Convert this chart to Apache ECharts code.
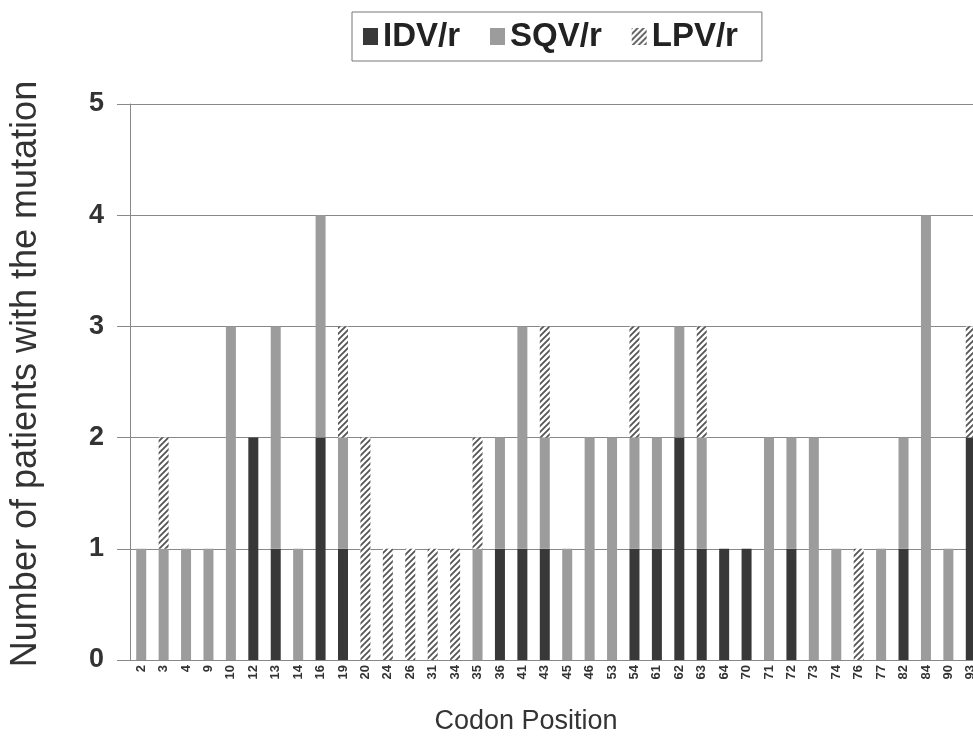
<!DOCTYPE html>
<html>
<head>
<meta charset="utf-8">
<script src="https://cdn.jsdelivr.net/npm/echarts@6/dist/echarts.min.js"></script>
<style>
html,body{margin:0;padding:0;background:#fff;}
#chart{width:973px;height:740px;}
</style>
</head>
<body>
<div id="chart"></div>
<script>
const codons = ['2','3','4','9','10','12','13','14','16','19','20','24','26','31','34','35','36','41','43','45','46','53','54','61','62','63','64','70','71','72','73','74','76','77','82','84','90','93'];
const idv = [0,0,0,0,0,2,1,0,2,1,0,0,0,0,0,0,1,1,1,0,0,0,1,1,2,1,1,1,0,1,0,0,0,0,1,0,0,2];
const sqv = [1,1,1,1,3,0,2,1,2,1,0,0,0,0,0,1,1,2,1,1,2,2,1,1,1,1,0,0,2,1,2,1,0,1,1,4,1,0];
const lpv = [0,1,0,0,0,0,0,0,0,1,2,1,1,1,1,1,0,0,1,0,0,0,1,0,0,1,0,0,0,0,0,0,1,0,0,0,0,1];
const yTicks = [0,1,2,3,4,5];

function hatch(){
  const c = document.createElement('canvas');
  c.width = 6; c.height = 6;
  const g = c.getContext('2d');
  g.fillStyle = '#ffffff'; g.fillRect(0,0,6,6);
  g.strokeStyle = '#555555'; g.lineWidth = 1.8;
  g.beginPath();
  g.moveTo(-1,7); g.lineTo(7,-1);
  g.moveTo(-4,4); g.lineTo(4,-4);
  g.moveTo(2,10); g.lineTo(10,2);
  g.stroke();
  return c;
}

const chart = echarts.init(document.getElementById('chart'), null, {renderer:'canvas'});
const font = '"Liberation Sans", Arial, sans-serif';
chart.setOption({
  backgroundColor:'#ffffff',
  animation:false,
  legend:{
    left:352, top:12,
    data:['IDV/r','SQV/r','LPV/r'],
    icon:'rect',
    itemWidth:15, itemHeight:17, itemGap:30,
    padding:[8,24,8,11],
    borderColor:'#777', borderWidth:1,
    textStyle:{fontFamily:font, fontSize:33, fontWeight:'bold', color:'#222'}
  },
  grid:{left:130, top:104, width:852, height:556, containLabel:false, outerBoundsMode:'none'},
  xAxis:{
    type:'category', data:codons,
    name:'Codon Position', nameLocation:'middle', nameGap:48,
    nameTextStyle:{fontFamily:font, fontSize:27, color:'#333', padding:[0,60,0,0]},
    axisLine:{lineStyle:{color:'#888'}},
    axisTick:{length:3, lineStyle:{color:'#888'}},
    axisLabel:{rotate:90, fontFamily:font, fontSize:13, fontWeight:'bold', color:'#333', margin:5, interval:0}
  },
  yAxis:{
    type:'value', min:0, max:5, interval:1,
    name:'Number of patients with the mutation', nameLocation:'middle', nameGap:86,
    nameTextStyle:{fontFamily:font, fontSize:36, color:'#333', padding:[0,0,0,16]},
    axisLine:{show:true, lineStyle:{color:'#888'}},
    axisTick:{show:true, length:13, lineStyle:{color:'#888'}},
    axisLabel:{fontFamily:font, fontSize:27, fontWeight:'bold', color:'#333', margin:26,
      formatter:function(v){return yTicks.indexOf(v)>=0 ? String(v) : '';}},
    splitLine:{lineStyle:{color:'#888', width:1}}
  },
  series:[
    {name:'IDV/r', type:'bar', stack:'s', data:idv, barWidth:10, itemStyle:{color:'#383838'}},
    {name:'SQV/r', type:'bar', stack:'s', data:sqv, barWidth:10, itemStyle:{color:'#9c9c9c'}},
    {name:'LPV/r', type:'bar', stack:'s', data:lpv, barWidth:10, itemStyle:{color:{image:hatch(), repeat:'repeat'}}}
  ]
});
</script>
</body>
</html>
